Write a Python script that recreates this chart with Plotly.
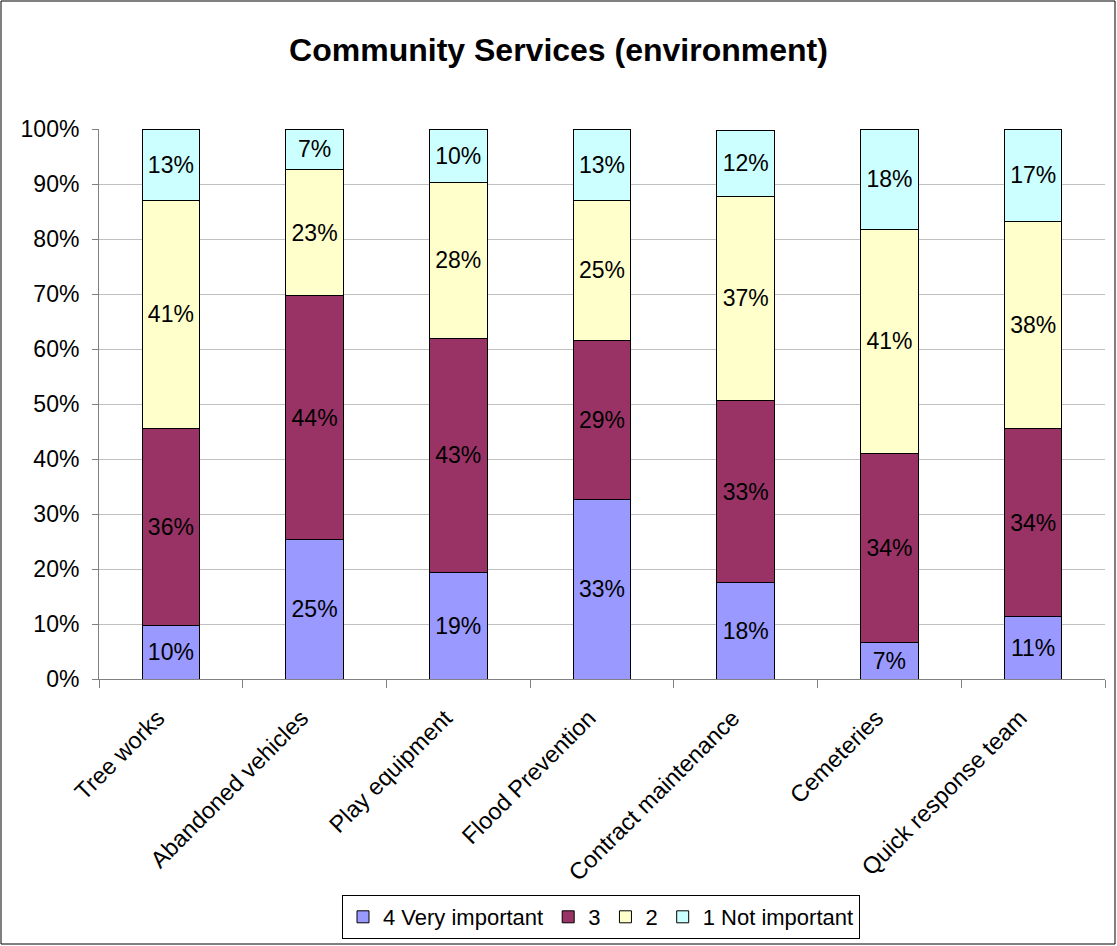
import plotly.graph_objects as go

categories = ["Tree works", "Abandoned vehicles", "Play equipment", "Flood Prevention",
              "Contract maintenance", "Cemeteries", "Quick response team"]

very_important = [9.7, 25.3, 19.4, 32.6, 17.5, 6.6, 11.3]
score_3 = [35.9, 44.4, 42.6, 29.0, 33.1, 34.4, 34.3]
score_2 = [41.4, 22.9, 28.3, 25.4, 37.2, 40.8, 37.6]
not_important = [13.0, 7.4, 9.7, 13.0, 11.9, 18.2, 16.8]

series_names = ["4 Very important", "3", "2", "1 Not important"]
series_colors = ["#9999FF", "#993366", "#FFFFCC", "#CCFFFF"]
series_values = [very_important, score_3, score_2, not_important]

y_ticks = [0, 10, 20, 30, 40, 50, 60, 70, 80, 90, 100]
y_tick_labels = [f"{t}%" for t in y_ticks]

FONT = "Liberation Sans, Arial, sans-serif"
W, H = 1117, 946
ML, MR, MT, MB = 99, 12, 129, 267

fig = go.Figure()
for name, color, vals in zip(series_names, series_colors, series_values):
    fig.add_trace(go.Bar(
        x=categories, y=vals, name=name,
        marker=dict(color=color, line=dict(color="#000000", width=1)),
        text=[f"{round(v)}%" for v in vals],
        textposition="inside", insidetextanchor="middle", textangle=0,
        textfont=dict(family=FONT, size=23, color="#000000"),
        hoverinfo="skip",
    ))

pw = W - ML - MR
ph = H - MT - MB

fig.update_layout(
    barmode="stack",
    bargap=0.6,
    width=W, height=H,
    margin=dict(l=ML, r=MR, t=MT, b=MB, pad=0),
    paper_bgcolor="#FFFFFF",
    plot_bgcolor="#FFFFFF",
    font=dict(family=FONT, size=22, color="#000000"),
    title=dict(text="<b>Community Services (environment)</b>",
               font=dict(family=FONT, size=32, color="#000000"),
               x=0.5, xanchor="center", xref="container", y=1 - 50 / H, yanchor="middle"),
    legend=dict(orientation="h", traceorder="normal",
                xref="container", yref="container",
                x=601 / W, xanchor="center", y=(H - 939) / H, yanchor="bottom",
                bordercolor="#000000", borderwidth=1, bgcolor="#FFFFFF",
                font=dict(family=FONT, size=22, color="#000000"),
                itemwidth=30, tracegroupgap=0),
    showlegend=True,
    xaxis=dict(
        showline=True, linecolor="#808080", linewidth=1,
        ticks="outside", ticklen=8, tickcolor="#808080", tickson="boundaries",
        tickangle=-45, showgrid=False, automargin=False,
        ticklabelstandoff=15, ticklabelshift=-13,
        tickfont=dict(family=FONT, size=23.5, color="#000000"),
    ),
    yaxis=dict(
        range=[0, 100], tickvals=y_ticks, ticktext=y_tick_labels,
        showline=True, linecolor="#808080", linewidth=1,
        ticks="outside", ticklen=6, tickcolor="#808080", ticklabelstandoff=8,
        showgrid=True, gridcolor="#C0C0C0", gridwidth=1,
        zeroline=False, automargin=False,
        tickfont=dict(family=FONT, size=23, color="#000000"),
    ),
    shapes=[dict(type="rect", xref="paper", yref="paper",
                 x0=(1 - ML) / pw, x1=(W - 2 - ML) / pw,
                 y0=(H - MB - (H - 2)) / ph, y1=(H - MB - 1) / ph,
                 line=dict(color="#000000", width=1), fillcolor="rgba(0,0,0,0)",
                 layer="above")],
)

fig.write_html("out.html")
